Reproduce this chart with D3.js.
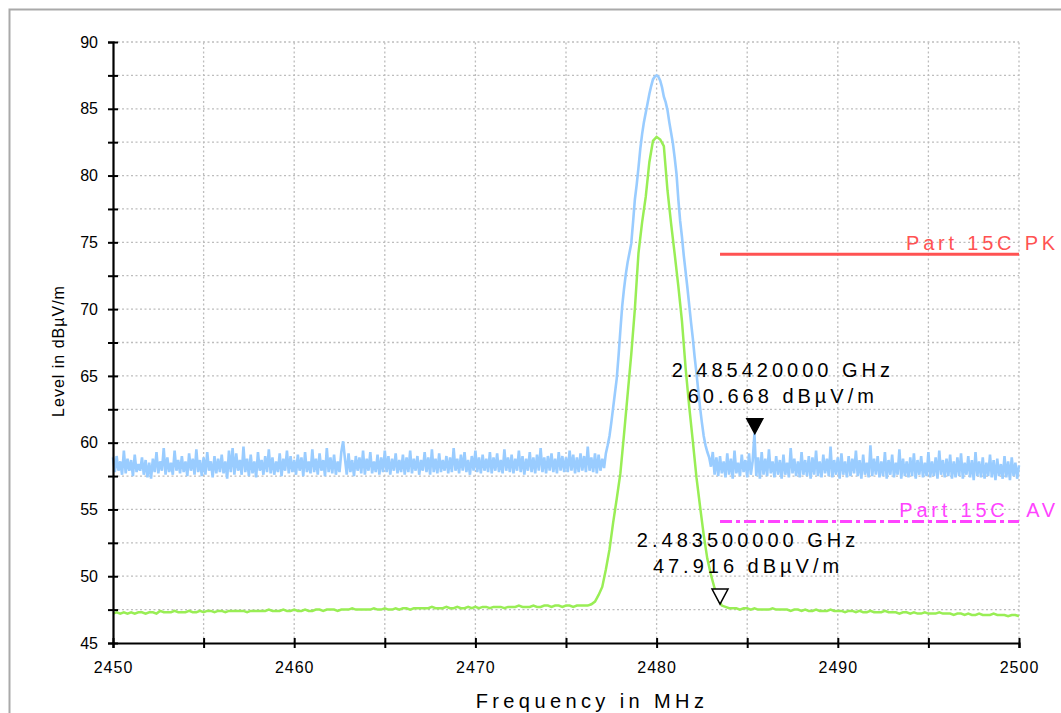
<!DOCTYPE html>
<html>
<head>
<meta charset="utf-8">
<script src="https://cdn.jsdelivr.net/npm/d3@7"></script>
<style>
  body { margin: 0; background: #fff; }
  svg { display: block; font-family: Arial, "Liberation Sans", sans-serif; }
</style>
</head>
<body>
<div id="chart"></div>
<script>
// Sweep grid
const sweepStart = 2450;
const blueStep = 0.1;   // MHz between peak-trace samples
const greenStep = 0.2;  // MHz between average-trace samples

// Peak trace (blue), one row per MHz, 2450.0 .. 2500.0
const peakLevels = [
  58.9, 57.8, 59.0, 57.9, 58.6, 57.6, 59.4, 57.7, 58.8, 57.9,
  58.7, 57.5, 59.1, 57.8, 58.4, 57.9, 58.9, 57.6, 58.7, 57.4,
  58.5, 57.3, 58.8, 57.8, 59.3, 57.7, 58.6, 57.9, 59.6, 57.6,
  58.9, 57.8, 58.5, 57.6, 59.4, 57.9, 58.7, 57.7, 59.0, 57.8,
  58.6, 57.5, 59.2, 57.9, 58.8, 57.6, 59.5, 57.8, 58.7, 57.5,
  58.9, 57.6, 59.3, 57.9, 58.6, 57.4, 59.0, 57.7, 58.8, 57.8,
  59.1, 57.7, 58.6, 57.3, 59.4, 57.8, 59.6, 57.6, 59.2, 57.9,
  58.7, 57.6, 59.7, 57.8, 58.8, 57.5, 59.1, 57.7, 58.6, 57.4,
  59.3, 57.9, 58.7, 57.6, 59.0, 57.8, 59.5, 57.7, 58.9, 57.6,
  58.6, 57.8, 59.2, 57.5, 58.8, 57.9, 59.4, 57.7, 59.0, 57.8,
  58.7, 57.6, 59.1, 57.9, 58.9, 57.5, 59.3, 57.8, 58.6, 57.7,
  59.5, 57.8, 58.8, 57.6, 59.2, 57.9, 58.7, 57.5, 59.6, 57.8,
  58.9, 57.7, 59.1, 57.6, 58.6, 57.8, 59.3, 60.1, 58.8, 57.6,
  59.2, 57.8, 58.7, 57.5, 59.0, 57.9, 58.9, 57.7, 59.4, 57.6,
  58.8, 57.9, 59.3, 57.7, 58.6, 57.8, 59.1, 57.6, 58.9, 57.8,
  59.4, 57.8, 59.0, 57.6, 58.8, 57.9, 59.2, 57.7, 58.7, 57.8,
  59.1, 57.6, 58.9, 57.8, 59.4, 57.7, 58.8, 57.9, 59.0, 57.6,
  58.7, 57.9, 59.3, 57.8, 58.9, 57.6, 59.5, 57.8, 58.8, 57.7,
  59.2, 57.8, 58.7, 57.9, 59.0, 57.7, 58.9, 57.8, 59.6, 57.9,
  58.8, 57.7, 59.1, 57.9, 59.3, 57.8, 58.7, 57.6, 59.0, 57.9,
  59.4, 57.8, 58.9, 57.7, 59.1, 57.9, 58.8, 57.8, 59.3, 57.7,
  58.9, 57.9, 59.2, 57.8, 58.7, 57.7, 59.5, 57.9, 58.9, 57.8,
  59.1, 57.7, 58.8, 57.9, 59.4, 57.8, 59.0, 57.6, 58.8, 57.9,
  59.3, 57.8, 58.9, 57.7, 59.1, 57.9, 59.6, 57.8, 58.9, 57.7,
  59.0, 57.9, 59.2, 57.8, 58.8, 57.7, 59.3, 57.9, 59.0, 57.8,
  58.9, 57.8, 59.4, 57.9, 59.1, 57.7, 58.9, 57.8, 59.2, 57.9,
  59.0, 57.8, 59.7, 57.9, 58.9, 57.8, 59.2, 57.7, 59.1, 57.9,
  58.8, 58.1, 59.2, 59.8, 60.5, 61.5, 62.6, 63.7, 64.8, 66.5,
  68.4, 70.2, 71.5, 72.6, 73.5, 74.2, 74.9, 76.5, 78.2, 79.3,
  80.6, 82.0, 83.1, 84.0, 84.7, 85.4, 86.1, 86.7, 87.2, 87.4,
  87.5, 87.4, 87.1, 86.6, 85.9, 85.5, 84.9, 84.0, 83.2, 82.4,
  81.3, 80.1, 78.2, 76.6, 75.4, 74.0, 72.8, 71.6, 70.3, 69.0,
  67.8, 66.4, 65.2, 63.9, 62.6, 61.5, 60.5, 59.8, 59.3, 58.9,
  58.2, 59.3, 57.6, 58.9, 57.5, 59.0, 57.7, 58.6, 57.4, 59.2,
  57.6, 58.8, 57.3, 59.4, 57.7, 58.5, 57.5, 59.1, 57.8, 58.7,
  57.4, 59.2, 57.6, 58.6, 60.7, 57.5, 58.9, 57.3, 59.3, 57.6,
  58.8, 57.5, 59.5, 57.7, 58.6, 57.4, 59.0, 57.6, 58.7, 57.3,
  59.1, 57.6, 58.5, 57.4, 59.6, 57.7, 58.8, 57.5, 58.6, 57.4,
  59.3, 57.6, 58.7, 57.5, 59.0, 57.3, 58.9, 57.6, 59.4, 57.5,
  58.6, 57.4, 59.1, 57.7, 58.8, 57.5, 59.7, 57.4, 58.7, 57.6,
  58.9, 57.3, 59.2, 57.6, 58.6, 57.4, 59.0, 57.5, 58.8, 57.7,
  59.4, 57.5, 58.7, 57.3, 59.1, 57.6, 58.5, 57.4, 59.8, 57.5,
  58.8, 57.6, 59.0, 57.4, 58.6, 57.5, 59.3, 57.3, 58.7, 57.6,
  59.1, 57.4, 58.5, 57.6, 59.5, 57.3, 58.8, 57.5, 58.6, 57.4,
  58.9, 57.5, 59.2, 57.3, 58.7, 57.6, 59.0, 57.4, 58.5, 57.5,
  59.3, 57.4, 58.6, 57.5, 58.9, 57.3, 59.4, 57.6, 58.7, 57.4,
  58.8, 57.5, 59.1, 57.3, 58.6, 57.4, 58.9, 57.5, 59.2, 57.3,
  58.5, 57.6, 59.0, 57.4, 58.7, 57.2, 59.3, 57.5, 58.6, 57.4,
  58.9, 57.3, 58.5, 57.5, 59.1, 57.4, 58.7, 57.2, 58.8, 57.5,
  58.4, 57.3, 59.0, 57.4, 58.6, 57.2, 58.9, 57.5, 58.5, 57.3,
  58.3
];

// Average trace (green), one row per MHz, 2450.0 .. 2500.0
const avgLevels = [
  47.2, 47.3, 47.2, 47.3, 47.2,
  47.3, 47.2, 47.3, 47.3, 47.2,
  47.3, 47.3, 47.2, 47.4, 47.3,
  47.3, 47.3, 47.4, 47.3, 47.3,
  47.3, 47.4, 47.3, 47.3, 47.4,
  47.3, 47.4, 47.4, 47.3, 47.4,
  47.4, 47.3, 47.4, 47.4, 47.4,
  47.4, 47.4, 47.3, 47.4, 47.4,
  47.4, 47.4, 47.4, 47.5, 47.4,
  47.4, 47.4, 47.5, 47.4, 47.4,
  47.5, 47.4, 47.4, 47.5, 47.4,
  47.4, 47.5, 47.5, 47.4, 47.5,
  47.5, 47.5, 47.4, 47.5, 47.5,
  47.5, 47.6, 47.5, 47.5, 47.5,
  47.5, 47.5, 47.6, 47.5, 47.5,
  47.6, 47.5, 47.5, 47.6, 47.5,
  47.6, 47.6, 47.5, 47.6, 47.6,
  47.6, 47.6, 47.6, 47.7, 47.6,
  47.6, 47.6, 47.7, 47.6, 47.6,
  47.7, 47.6, 47.6, 47.7, 47.6,
  47.7, 47.6, 47.7, 47.7, 47.6,
  47.7, 47.7, 47.7, 47.6, 47.7,
  47.7, 47.7, 47.8, 47.7, 47.7,
  47.7, 47.8, 47.7, 47.7, 47.8,
  47.8, 47.7, 47.8, 47.8, 47.7,
  47.8, 47.8, 47.7, 47.8, 47.8,
  47.8, 47.8, 47.9, 48.1, 48.6,
  49.2, 50.5, 52.0, 54.0, 55.8,
  57.7, 60.6, 63.6, 66.6, 70.0,
  74.2, 76.5, 78.4, 81.0, 82.6,
  82.9, 82.7, 82.2, 78.9, 76.4,
  74.1, 71.7, 69.1, 65.6, 62.7,
  60.1, 57.4, 55.2, 53.1, 51.3,
  50.1, 49.1, 48.3, 47.8, 47.7,
  47.6, 47.6, 47.6, 47.5, 47.6,
  47.6, 47.5, 47.6, 47.5, 47.5,
  47.5, 47.5, 47.6, 47.5, 47.5,
  47.5, 47.5, 47.4, 47.5, 47.5,
  47.4, 47.5, 47.4, 47.4, 47.5,
  47.4, 47.4, 47.4, 47.5, 47.4,
  47.4, 47.4, 47.3, 47.4, 47.4,
  47.3, 47.4, 47.3, 47.3, 47.4,
  47.3, 47.3, 47.3, 47.4, 47.3,
  47.3, 47.3, 47.2, 47.3, 47.3,
  47.2, 47.3, 47.2, 47.2, 47.3,
  47.2, 47.2, 47.2, 47.3, 47.2,
  47.2, 47.2, 47.1, 47.2, 47.2,
  47.1, 47.2, 47.1, 47.1, 47.2,
  47.1, 47.1, 47.1, 47.2, 47.1,
  47.1, 47.1, 47.0, 47.1, 47.1,
  47.0
];

// Limit lines
const limitNames = ["Part 15C PK", "Part 15C  AV"];
const limitFrom = [2483.5, 2483.5];
const limitTo = [2500, 2500];
const limitLevels = [74.1, 54.1];

// Markers
const markerFreqs = [2485.42, 2483.5];
const markerLevels = [60.668, 47.916];
const markerLines = [
  ["2.485420000 GHz", "60.668 dBµV/m"],
  ["2.483500000 GHz", "47.916 dBµV/m"]
];

// Axis ticks
const xMajorTicks = [2450, 2460, 2470, 2480, 2490, 2500];
const xGridTicks = [2455, 2460, 2465, 2470, 2475, 2480, 2485, 2490, 2495, 2500];
const yMajorTicks = [45, 50, 55, 60, 65, 70, 75, 80, 85, 90];
const yGridTicks = [47.5, 50, 52.5, 55, 57.5, 60, 62.5, 65, 67.5, 70, 72.5, 75, 77.5, 80, 82.5, 85, 87.5, 90];

const W = 1061, H = 713;
const margin = { top: 42, right: 42, bottom: 70, left: 113 };

const svg = d3.select("#chart")
  .append("svg")
  .attr("width", W)
  .attr("height", H);

// outer frame (runs off the page to the right and bottom)
svg.append("rect")
  .attr("x", 9.5).attr("y", 9.5)
  .attr("width", W + 40).attr("height", H + 40)
  .attr("fill", "none")
  .attr("stroke", "#a9a9a9")
  .attr("stroke-width", 2);

const x = d3.scaleLinear()
  .domain([2450, 2500])
  .range([margin.left, W - margin.right]);

const y = d3.scaleLinear()
  .domain([45, 90])
  .range([H - margin.bottom, margin.top]);

// dotted grid
svg.append("g")
  .selectAll("line")
  .data(yGridTicks)
  .join("line")
  .attr("x1", x(2450)).attr("x2", x(2500))
  .attr("y1", d => y(d)).attr("y2", d => y(d))
  .attr("stroke", "#bdbdbd")
  .attr("stroke-width", 1.3)
  .attr("stroke-dasharray", "2,2.5");

svg.append("g")
  .selectAll("line")
  .data(xGridTicks)
  .join("line")
  .attr("x1", d => x(d)).attr("x2", d => x(d))
  .attr("y1", y(45)).attr("y2", y(90))
  .attr("stroke", "#bdbdbd")
  .attr("stroke-width", 1.3)
  .attr("stroke-dasharray", "2,2.5");

// traces
const peakData = peakLevels.map((v, i) => ({ f: sweepStart + i * blueStep, v }));
const avgData = avgLevels.map((v, i) => ({ f: sweepStart + i * greenStep, v }));

const line = d3.line()
  .x(d => x(d.f))
  .y(d => y(d.v));

svg.append("path")
  .datum(peakData)
  .attr("fill", "none")
  .attr("stroke", "#99ccff")
  .attr("stroke-width", 2.6)
  .attr("d", line);

svg.append("path")
  .datum(avgData)
  .attr("fill", "none")
  .attr("stroke", "#99ee55")
  .attr("stroke-width", 2.5)
  .attr("d", line);

// limit lines
const limitColors = ["#ff5252", "#ff44ff"];
const limitDash = [null, "12,4,4,4"];
limitNames.forEach((name, i) => {
  svg.append("line")
    .attr("x1", x(limitFrom[i])).attr("x2", x(limitTo[i]))
    .attr("y1", y(limitLevels[i])).attr("y2", y(limitLevels[i]))
    .attr("stroke", limitColors[i])
    .attr("stroke-width", 3)
    .attr("stroke-dasharray", limitDash[i]);

  svg.append("text")
    .attr("x", x(2500) + 40)
    .attr("y", y(limitLevels[i]) - 4)
    .attr("text-anchor", "end")
    .attr("fill", limitColors[i])
    .style("font-size", "20px")
    .style("letter-spacing", "3.8px")
    .style("white-space", "pre")
    .text(name);
});

// markers
markerFreqs.forEach((f, i) => {
  const mx = x(f), my = y(markerLevels[i]);
  svg.append("path")
    .attr("d", `M${mx - 8},${my - 15} L${mx + 8},${my - 15} L${mx},${my} Z`)
    .attr("fill", i === 0 ? "#000" : "#fff")
    .attr("stroke", "#000")
    .attr("stroke-width", 1.5);

  markerLines[i].forEach((t, j) => {
    svg.append("text")
      .attr("x", mx + 28)
      .attr("y", my - 57 + j * 26)
      .attr("text-anchor", "middle")
      .attr("fill", "#000")
      .style("font-size", "20px")
      .style("letter-spacing", "4px")
      .text(t);
  });
});

// axes
const yAxis = d3.axisLeft(y)
  .tickValues(yGridTicks.concat([45]))
  .tickSize(5)
  .tickPadding(10)
  .tickFormat(d => yMajorTicks.includes(d) ? d : "");

const gy = svg.append("g")
  .attr("transform", `translate(${margin.left},0)`)
  .call(yAxis);

const xAxis = d3.axisBottom(x)
  .tickValues([2450].concat(xGridTicks))
  .tickSize(5)
  .tickPadding(14)
  .tickFormat(d => xMajorTicks.includes(d) ? d : "");

const gx = svg.append("g")
  .attr("transform", `translate(0,${y(45)})`)
  .call(xAxis);

[gx, gy].forEach(g => {
  g.select(".domain").attr("stroke", "#000").attr("stroke-width", 2.2);
  g.selectAll(".tick line").attr("stroke", "#000").attr("stroke-width", 2);
  g.selectAll(".tick text")
    .attr("fill", "#000")
    .style("font-family", "Arial, 'Liberation Sans', sans-serif")
    .style("font-size", "16px");
});
gy.selectAll(".tick line").attr("x1", 5);
gx.selectAll(".tick line").attr("y1", -5);
gx.selectAll(".tick text").style("letter-spacing", "1px");

// axis titles
svg.append("text")
  .attr("transform", `translate(64,${351}) rotate(-90)`)
  .attr("text-anchor", "middle")
  .style("font-size", "16px")
  .style("letter-spacing", "1px")
  .text("Level in dBµV/m");

svg.append("text")
  .attr("x", 592)
  .attr("y", 708)
  .attr("text-anchor", "middle")
  .style("font-size", "20px")
  .style("letter-spacing", "4.4px")
  .text("Frequency in MHz");
</script>
</body>
</html>
